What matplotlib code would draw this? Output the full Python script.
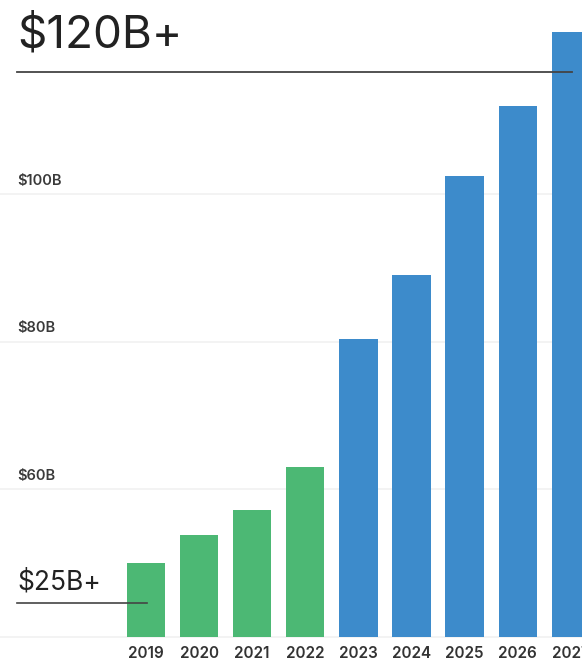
import matplotlib
matplotlib.use("Agg")
import matplotlib.pyplot as plt
from matplotlib.transforms import blended_transform_factory

YEARS = ["2019", "2020", "2021", "2022", "2023", "2024", "2025", "2026", "2027"]
VALUES = [49.9, 53.8, 57.2, 63.0, 80.3, 89.0, 102.5, 111.9, 121.9]
COLORS = ["#4cb874"] * 4 + ["#3d8bcb"] * 5
Y_TICKS = [60, 80, 100]
Y_LABELS = ["$60B", "$80B", "$100B"]
GRID = [40, 60, 80, 100]
BASE = 40

W, H = 582, 661
fig = plt.figure(figsize=(W / 100, H / 100), dpi=100)
ax = fig.add_axes([0, 0, 1, 1])

# pixel mapping: 20B = 147.5 px, $40B at y=636.5
ppv = 147.5 / 20
ax.set_ylim(BASE - (H - 636.5) / ppv, BASE + 636.5 / ppv)
ax.set_xlim(-146 / 53.1, (W - 146) / 53.1)
ax.axis("off")

for g in GRID:
    ax.axhline(g, color="#f1f1f1", lw=1.2, zorder=0)

x = list(range(len(YEARS)))
ax.bar(x, [v - BASE for v in VALUES], bottom=BASE, width=0.72, color=COLORS, zorder=2)

tr = blended_transform_factory(fig.transFigure, ax.transData)
for v, lab in zip(Y_TICKS, Y_LABELS):
    ax.text(17 / W, v + 9 / ppv, lab, transform=tr, fontsize=10.5, fontweight="semibold",
            family=["Inter", "DejaVu Sans"], color="#3a3a3a", va="baseline", ha="left")

trx = blended_transform_factory(ax.transData, fig.transFigure)
for xi, yr in zip(x, YEARS):
    ax.text(xi, 1 - 658 / H, yr, transform=trx, fontsize=11, fontweight="semibold",
            family=["Inter", "DejaVu Sans"], color="#333333", ha="center", va="baseline")

# annotations
fig.text(17 / W, 1 - 47 / H, "$120B+", fontsize=33, fontweight="normal",
         family=["Inter", "DejaVu Sans"], color="#222222", ha="left", va="baseline")
fig.add_artist(plt.Line2D([17 / W, 572 / W], [1 - 72 / H, 1 - 72 / H], color="#444444", lw=1.3, zorder=5))
fig.text(17 / W, 1 - 590 / H, "$25B+", fontsize=19, fontweight="normal",
         family=["Inter", "DejaVu Sans"], color="#222222", ha="left", va="baseline")
fig.add_artist(plt.Line2D([17 / W, 147 / W], [1 - 603 / H, 1 - 603 / H], color="#444444", lw=1.2, zorder=5))

fig.savefig("out.png", dpi=100)
